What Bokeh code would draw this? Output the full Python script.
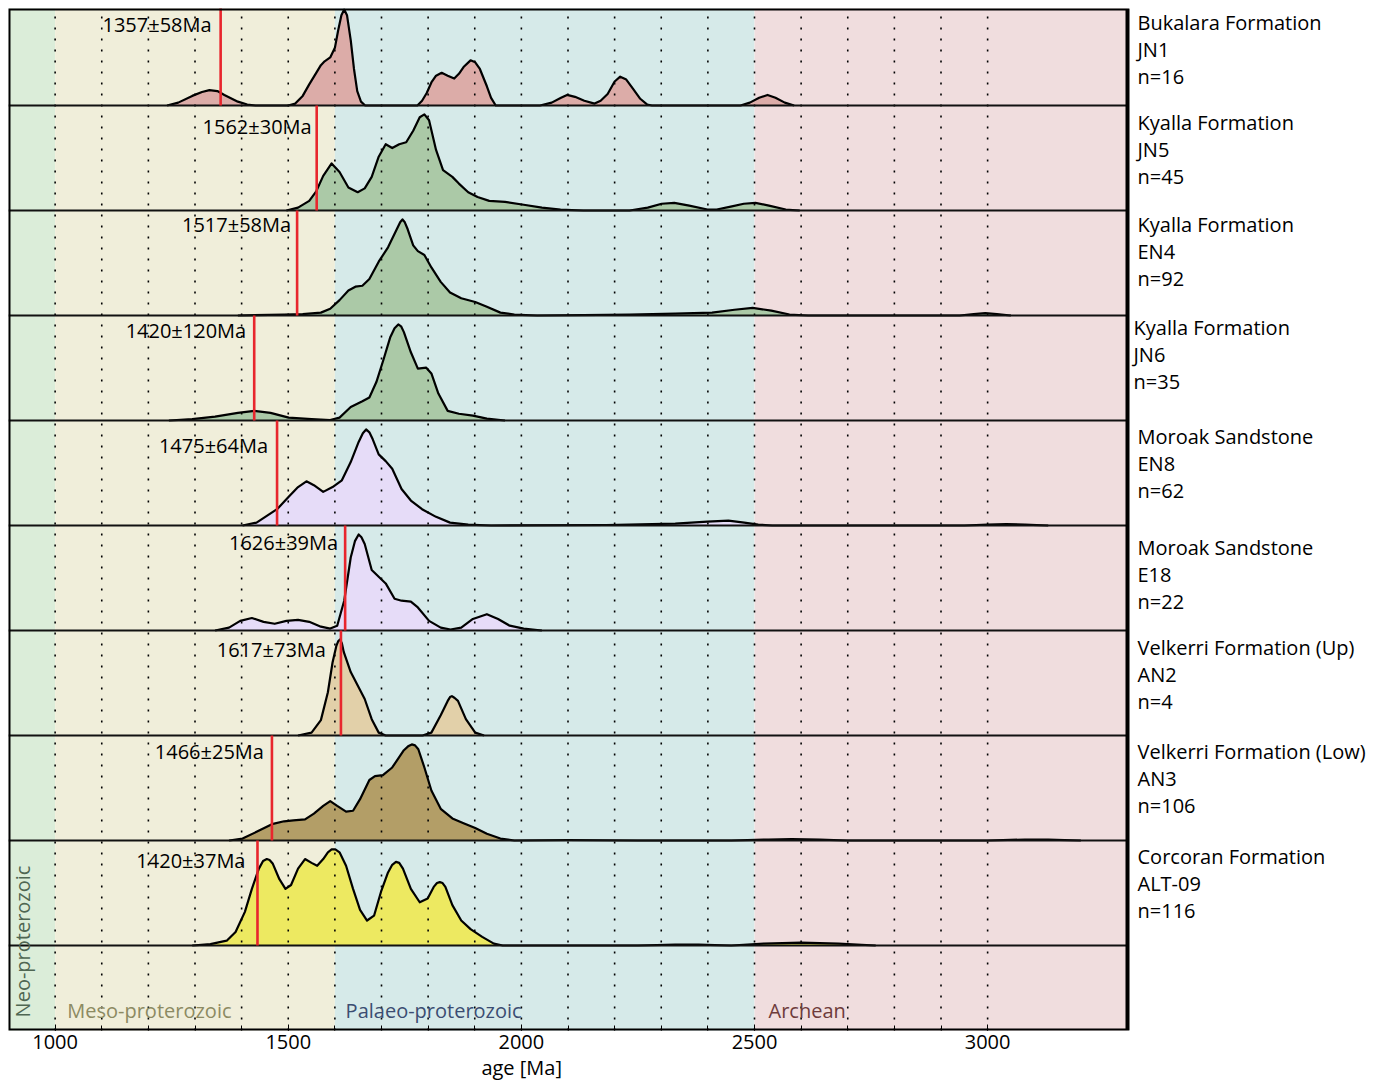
import math
from bokeh.plotting import figure
from bokeh.models import Range1d, Label, FixedTicker, Title
from bokeh.embed import file_html
from bokeh.resources import INLINE

# ---------------- data ----------------
era_edges = [900, 1000, 1600, 2500, 3300]
era_names = ["Neo-proterozoic", "Meso-proterozoic", "Palaeo-proterozoic", "Archean"]
era_colors = ["#dbedd9", "#f0eeda", "#d6eae9", "#f0ddde"]
era_text_colors = ["#4f6652", "#8c8a62", "#3b4d72", "#6e3b3b"]

formations = ["Bukalara Formation", "Kyalla Formation", "Kyalla Formation", "Kyalla Formation",
              "Moroak Sandstone", "Moroak Sandstone", "Velkerri Formation (Up)",
              "Velkerri Formation (Low)", "Corcoran Formation"]
samples = ["JN1", "JN5", "EN4", "JN6", "EN8", "E18", "AN2", "AN3", "ALT-09"]
n_counts = [16, 45, 92, 35, 62, 22, 4, 106, 116]
youngest_text = ["1357±58Ma", "1562±30Ma", "1517±58Ma", "1420±120Ma", "1475±64Ma",
                 "1626±39Ma", "1617±73Ma", "1466±25Ma", "1420±37Ma"]
youngest_line = [1355, 1561, 1519, 1427, 1476, 1622, 1613, 1465, 1434]
fill_colors = ["#dcaca8", "#abc9a7", "#abc9a7", "#abc9a7", "#e6dcf8", "#e6dcf8",
               "#e2d0a9", "#b39e67", "#ede961"]

# relative density (peak = 100)
ages_jn1 = [1240, 1264, 1294, 1315, 1331, 1348, 1363, 1392, 1412, 1430,
            1500, 1515, 1531, 1545, 1560, 1570, 1578, 1590, 1600, 1607, 1614, 1620, 1626, 1634, 1641, 1648, 1656, 1665,
            1777, 1787, 1797, 1807, 1817, 1829, 1842, 1856, 1866, 1876, 1891, 1901, 1911, 1926, 1935, 1945,
            2040, 2065, 2085, 2098, 2115, 2135, 2157, 2170, 2185, 2200, 2212, 2225, 2240, 2255, 2270, 2280,
            2470, 2490, 2510, 2528, 2545, 2565, 2585]
dens_jn1 = [0, 3, 10, 14, 16, 15, 11, 4, 1, 0,
            0, 2, 10, 22, 34, 42, 46, 50, 60, 78, 94, 100, 94, 68, 38, 15, 4, 0,
            0, 5, 13, 24, 31, 34, 31, 28, 33, 40, 47, 45, 38, 20, 8, 0,
            0, 3, 8, 11, 9, 5, 2, 5, 12, 25, 30, 27, 17, 7, 1, 0,
            0, 3, 8, 11, 8, 3, 0]

ages_jn5 = [1496, 1521, 1545, 1560, 1575, 1593, 1610, 1629, 1649, 1664, 1679, 1694, 1709, 1723, 1738,
            1753, 1768, 1782, 1792, 1802, 1817, 1832, 1852, 1866, 1886, 1906, 1931, 1965, 2005, 2044,
            2084, 2133, 2232, 2271, 2301, 2328, 2360, 2399, 2419, 2449, 2477, 2502, 2531, 2567, 2597]
dens_jn5 = [0, 3, 10, 20, 36, 49, 40, 24, 19, 23, 35, 56, 69, 65, 69,
            71, 83, 97, 100, 94, 63, 42, 35, 28, 19, 14, 10, 9, 6, 3,
            1, 0, 0, 3, 7, 8, 5, 1, 1, 4, 7, 8, 5, 1, 0]

ages_en4 = [1392, 1491, 1531, 1570, 1590, 1610, 1629, 1644, 1659, 1674, 1694, 1714, 1733, 1740, 1745,
            1750, 1756, 1768, 1778, 1792, 1807, 1827, 1847, 1871, 1901, 1926, 1955, 1985, 2034, 2232,
            2330, 2409, 2457, 2496, 2536, 2575, 2615, 2940, 2970, 2995, 3020, 3050]
dens_en4 = [0, 1, 1.5, 3, 7, 16, 26, 30, 31, 38, 56, 71, 90, 97, 100,
            97, 90, 73, 67, 63, 50, 35, 24, 18, 14, 9, 3, 1, 0, 1,
            2, 3, 6, 8, 5, 1, 0, 0, 1.5, 2.5, 1.5, 0]

ages_jn6 = [1244, 1294, 1343, 1392, 1427, 1462, 1501, 1550, 1590, 1610, 1634, 1659, 1674, 1689, 1704,
            1719, 1728, 1736, 1742, 1748, 1763, 1778, 1796, 1807, 1822, 1842, 1866, 1896, 1926, 1965]
dens_jn6 = [0, 1.5, 4, 8, 10, 8, 3, 1.5, 0.5, 3, 14, 20, 24, 40, 63,
            87, 96, 100, 98, 92, 71, 54, 55, 49, 28, 10, 7, 5, 2, 0]

ages_en8 = [1402, 1432, 1476, 1501, 1521, 1539, 1555, 1575, 1595, 1615, 1634, 1651, 1660, 1667, 1674,
            1681, 1694, 1709, 1723, 1743, 1763, 1787, 1817, 1847, 1886, 1935, 2182, 2330, 2399, 2444,
            2478, 2508, 2538, 2950, 3000, 3040, 3080, 3130]
dens_en8 = [0, 3, 17, 30, 40, 46, 42, 35, 40, 47, 66, 87, 96, 100, 97,
            90, 74, 67, 59, 38, 26, 17, 9, 3, 1, 0, 0.5, 2, 4, 5,
            3, 1, 0, 0, 1, 1.5, 1, 0]

ages_e18 = [1343, 1373, 1397, 1422, 1447, 1471, 1496, 1521, 1545, 1570, 1590, 1605, 1620, 1634, 1643,
            1651, 1657, 1664, 1679, 1694, 1709, 1728, 1743, 1763, 1778, 1802, 1827, 1848, 1871, 1896,
            1926, 1950, 1975, 2005, 2044]
dens_e18 = [0, 3, 10, 13, 9, 7, 10, 11, 9, 4, 2, 5, 31, 76, 93,
            100, 97, 90, 63, 56, 49, 33, 31, 30, 24, 10, 3, 1, 3, 12,
            17, 12, 5, 2, 0]

ages_an2 = [1521, 1550, 1570, 1585, 1595, 1603, 1607, 1611, 1615, 1619, 1634, 1649, 1664, 1679, 1694,
            1709, 1788, 1807, 1827, 1842, 1847, 1851, 1857, 1864, 1881, 1901, 1920]
dens_an2 = [0, 3, 16, 45, 76, 93, 98, 100, 96, 87, 66, 52, 38, 17, 3,
            0, 0, 3, 21, 36, 40, 41, 39, 36, 17, 3, 0]

ages_an3 = [1373, 1402, 1432, 1465, 1491, 1511, 1536, 1555, 1575, 1590, 1605, 1624, 1639, 1654, 1674,
            1686, 1703, 1723, 1748, 1757, 1765, 1772, 1779, 1792, 1807, 1827, 1852, 1876, 1901, 1926,
            1955, 1985, 2100, 2250, 2450, 2530, 2580, 2640, 2700, 3000, 3080, 3130, 3200]
dens_an3 = [0, 2, 9, 17, 20, 21, 22, 28, 36, 41, 36, 30, 31, 43, 63,
            67, 68, 76, 94, 98, 100, 99, 95, 76, 52, 33, 23, 18, 13, 7,
            2, 0, 0.5, 0, 0, 1, 1.5, 1, 0, 0, 1, 1, 0]

ages_alt09 = [1294, 1333, 1368, 1387, 1407, 1422, 1437, 1446, 1454, 1460, 1467, 1481, 1494, 1506, 1521,
              1536, 1550, 1562, 1575, 1585, 1593, 1601, 1610, 1624, 1639, 1654, 1669, 1684, 1699, 1714,
              1723, 1731, 1738, 1746, 1763, 1782, 1799, 1812, 1819, 1825, 1831, 1837, 1852, 1871, 1891,
              1916, 1941, 1960, 2250, 2330, 2380, 2450, 2520, 2600, 2680, 2760]
dens_alt09 = [0, 1.5, 5, 14, 35, 59, 80, 88, 90, 89, 85, 69, 59, 63, 80,
              90, 86, 83, 90, 97, 100, 100, 97, 83, 59, 37, 26, 31, 56, 76,
              84, 87, 86, 80, 59, 45, 49, 61, 65, 66, 65, 61, 42, 26, 17,
              9, 2, 0, 0, 1, 1, 0, 2, 3, 2, 0]

curve_ages = [ages_jn1, ages_jn5, ages_en4, ages_jn6, ages_en8, ages_e18, ages_an2, ages_an3, ages_alt09]
curve_dens = [dens_jn1, dens_jn5, dens_en4, dens_jn6, dens_en8, dens_e18, dens_an2, dens_an3, dens_alt09]

x_ticks = [1000, 1500, 2000, 2500, 3000]
grid_ages = list(range(1000, 3001, 100))
x_title = "age [Ma]"

# ---------------- layout ----------------
ROW_PX = 105.0
n_rows = len(samples)
peak_frac = 0.915
label_dy = [24, 21, 14, 15, 25, 17, 19, 16, 20]
label_gap = [9, 5, 6, 8, 9, 7, 15, 8, 12]
side_dy = [22, 17, 14, 12, 16, 22, 17, 16, 16]
side_dx = [10, 10, 10, 6, 10, 10, 10, 10, 10]
FONT = "Open Sans"

W, H = 1385, 1081
LEFT, TOP, BOTTOM = 8, 8, 51
X0, X1 = 900, 3300
PLOT_PX = 1119.0                      # pixels occupied by 900..3300
frame_w = W - LEFT
x_end = X0 + (X1 - X0) * frame_w / PLOT_PX
y_lo, y_hi = -85 / ROW_PX, 8 + 97 / ROW_PX

p = figure(width=W, height=H,
           x_range=Range1d(X0, x_end), y_range=Range1d(y_lo, y_hi),
           output_backend="svg", toolbar_location=None,
           min_border_left=LEFT, min_border_right=0, min_border_top=TOP, min_border_bottom=BOTTOM)
p.yaxis.visible = False
p.grid.visible = False
p.outline_line_color = None
p.background_fill_color = "white"
p.border_fill_color = "white"

xa = p.xaxis[0]
xa.ticker = FixedTicker(ticks=x_ticks, minor_ticks=grid_ages)
xa.axis_line_color = None
xa.major_tick_in = 6
xa.major_tick_out = 0
xa.minor_tick_in = 5
xa.minor_tick_out = 0
xa.major_tick_line_color = "black"
xa.minor_tick_line_color = "black"
xa.major_label_text_font = FONT
xa.major_label_text_font_size = "20px"
xa.major_label_text_color = "black"
xa.major_label_standoff = 4

# axis title placed under the 2000 tick (left-aligned title shifted by an offset)
title_center_px = (2000 - X0) * PLOT_PX / (X1 - X0)
title_half_w = 40
p.add_layout(Title(text=x_title, align="left", offset=title_center_px - title_half_w,
                   standoff=0, text_font=FONT, text_font_size="20px",
                   text_font_style="normal", text_color="black"), "below")

# era backgrounds
p.quad(left=era_edges[:-1], right=era_edges[1:], bottom=y_lo - 1, top=y_hi + 1,
       fill_color=era_colors, line_color=None)

# density fills
for k in range(n_rows):
    base = n_rows - 1 - k
    ys = [base + d / 100.0 * peak_frac for d in curve_dens[k]]
    p.varea(x=curve_ages[k], y1=[base] * len(ys), y2=ys, fill_color=fill_colors[k])

# dotted grid
p.segment(x0=grid_ages, y0=[y_lo] * len(grid_ages), x1=grid_ages, y1=[y_hi] * len(grid_ages),
          line_color="black", line_width=1.6, line_dash="2 9")

# outlines and baselines
for k in range(n_rows):
    base = n_rows - 1 - k
    ys = [base + d / 100.0 * peak_frac for d in curve_dens[k]]
    p.line(curve_ages[k], ys, line_color="black", line_width=2.2, line_join="round")
bases = [n_rows - 1 - k for k in range(n_rows)]
p.segment(x0=[X0] * n_rows, y0=bases, x1=[X1] * n_rows, y1=bases,
          line_color="#111111", line_width=2.2)

# youngest age lines
p.segment(x0=youngest_line, y0=bases, x1=youngest_line, y1=[b + 1 for b in bases],
          line_color="#e8262d", line_width=2.6)

# plot frame
p.quad(left=[X0], right=[X1], bottom=[y_lo], top=[y_hi], fill_color=None,
       line_color="black", line_width=4)

for k in range(n_rows):
    base = n_rows - 1 - k
    top = base + 1
    p.add_layout(Label(x=youngest_line[k], y=top - label_dy[k] / ROW_PX, x_offset=-label_gap[k],
                       text=youngest_text[k], text_align="right", text_baseline="middle",
                       text_font=FONT, text_font_size="20px", text_color="black"))
    lines = [formations[k], samples[k], "n=%d" % n_counts[k]]
    for i, t in enumerate(lines):
        p.add_layout(Label(x=X1, y=top - (side_dy[k] + 27 * i) / ROW_PX, x_offset=side_dx[k],
                           text=t, text_align="left", text_baseline="middle",
                           text_font=FONT, text_font_size="20px", text_color="black"))

# era labels
p.add_layout(Label(x=931, y=(945 - 941) / ROW_PX, angle=math.pi / 2, text=era_names[0],
                   text_align="center", text_baseline="middle", text_font=FONT,
                   text_font_size="20px", text_color=era_text_colors[0]))
era_label_x = [1026, 1623, 2530]
for name, xx, col in zip(era_names[1:], era_label_x, era_text_colors[1:]):
    p.add_layout(Label(x=xx, y=(945 - 1010) / ROW_PX, text=name, text_align="left",
                       text_baseline="middle", text_font=FONT, text_font_size="20px",
                       text_color=col))

open("out.html", "w").write(file_html(p, INLINE))
